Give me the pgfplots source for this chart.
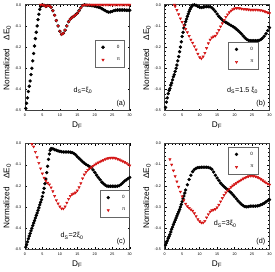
\documentclass[border=0pt]{standalone}
\usepackage{pgfplots}
\pgfplotsset{compat=1.18}
\usepgfplotslibrary{groupplots}
\usepackage{fontspec}
\setmainfont{Liberation Sans}
\begin{document}
\begin{tikzpicture}
\pgfplotsset{
  every axis/.append style={
    scale only axis, width=102pt, height=103pt,
    xmin=0, xmax=30, ymin=-0.5, ymax=0,
    xtick={0,5,...,30}, minor x tick num=4,
    ytick={-0.5,-0.4,...,0.01}, minor y tick num=4,
    tick align=inside, major tick length=2pt, minor tick length=1pt,
    tick style={black, line width=0.3pt},
    axis line style={line width=0.5pt, black!75},
    /pgf/number format/assume math mode=true,
    ticklabel style={font=\fontsize{3.6}{4}\selectfont},
    yticklabel style={/pgf/number format/.cd, fixed, fixed zerofill, precision=1},
    xticklabel style={/pgf/number format/.cd, fixed},
    xlabel={D\textsubscript{F}},
    ylabel={Normalized\quad ΔE\textsubscript{0}},
    label style={font=\fontsize{8}{9}\selectfont},
    xlabel style={yshift=2pt},
    ylabel style={yshift=-3pt},
    clip=false,
    legend style={draw=black!60, line width=0.4pt, font=\fontsize{4.5}{5}\selectfont, inner xsep=2pt, inner ysep=3pt, row sep=4pt, legend cell align=left},
    legend image code/.code={\path (0cm,0cm) (0.6cm,0cm); \draw[#1] plot coordinates {(0.2cm,0cm)};},
  },
  blk/.style={only marks, mark=*, mark size=1.45pt, black, mark options={fill=black}},
  red/.style={only marks, mark=triangle*, mark size=1.35pt, color={rgb,255:red,210;green,20;blue,20}, mark options={rotate=180, fill={rgb,255:red,220;green,20;blue,20}}},
}
\begin{groupplot}[group style={group size=2 by 2, horizontal sep=34pt, vertical sep=32pt}]
% (a)
\nextgroupplot[legend style={at={(0.95,0.41)}, anchor=south east}]
\addplot[blk] coordinates {
(0.25,-0.49)(0.5,-0.465)(0.75,-0.44)(1.0,-0.41)(1.25,-0.385)(1.5,-0.36)(1.75,-0.33)(2.0,-0.30)(2.25,-0.265)(2.5,-0.23)(2.75,-0.195)(3.0,-0.16)(3.25,-0.13)(3.5,-0.10)(3.75,-0.07)(4.0,-0.045)(4.25,-0.022)(4.5,-0.008)
(5.0,0.0)(5.5,-0.003)(6.0,-0.008)(6.5,-0.004)(7.0,-0.005)(7.5,-0.012)(8.0,-0.028)(8.5,-0.05)(9.0,-0.075)(9.5,-0.10)(10.0,-0.125)(10.5,-0.14)(11.0,-0.135)(11.5,-0.12)(12.0,-0.10)(12.5,-0.08)(13.0,-0.068)(13.5,-0.06)(14.0,-0.055)(14.5,-0.048)(15.0,-0.04)(15.5,-0.028)(16.0,-0.015)(16.5,-0.004)(17.0,0.0)
(17.5,-0.002)(18,-0.003)(18.5,-0.003)(19,-0.004)(19.5,-0.005)(20,-0.007)(20.5,-0.009)(21,-0.011)(21.5,-0.014)(22,-0.018)(22.5,-0.023)(23,-0.028)(23.5,-0.033)(24,-0.035)(24.5,-0.034)(25,-0.031)(25.5,-0.028)(26,-0.026)(26.5,-0.025)(27,-0.025)(27.5,-0.025)(28,-0.025)(28.5,-0.025)(29,-0.026)(29.5,-0.026)(30,-0.026)
};
\addlegendentry{0}
\addplot[red] coordinates {
(4.5,0.0)(5.0,0.0)(5.5,-0.003)(6.0,-0.008)(6.5,-0.004)(7.0,-0.005)(7.5,-0.012)(8.0,-0.028)(8.5,-0.05)(9.0,-0.075)(9.5,-0.10)(10.0,-0.125)(10.5,-0.14)(11.0,-0.135)(11.5,-0.12)(12.0,-0.10)(12.5,-0.08)(13.0,-0.068)(13.5,-0.06)(14.0,-0.055)(14.5,-0.048)(15.0,-0.04)(15.5,-0.028)(16.0,-0.015)(16.5,-0.004)(17.0,0.0)
(17.5,0.0)(18,0.0)(18.5,0.0)(19,0.0)(19.5,0.0)(20,0.0)(20.5,0.0)(21,0.0)(21.5,0.0)(22,0.0)(22.5,0.0)(23,0.0)(23.5,0.0)(24,0.0)(24.5,0.0)(25,0.0)(25.5,0.0)(26,0.0)(26.5,0.0)(27,0.0)(27.5,0.0)(28,0.0)(28.5,0.0)(29,0.0)(29.5,0.0)(30,0.0)
};
\addlegendentry{π}
\node[font=\fontsize{7}{8}\selectfont] at (axis cs:16.6,-0.407) {d\textsubscript{S}=ξ\textsubscript{0}};
\node[font=\fontsize{7}{8}\selectfont] at (axis cs:27.5,-0.465) {(a)};
% (b)
\nextgroupplot[legend style={at={(0.89,0.39)}, anchor=south east}]
\addplot[blk] coordinates {
(0.25,-0.485)(0.5,-0.46)(0.75,-0.44)(1.0,-0.42)(1.25,-0.405)(1.5,-0.395)(1.75,-0.38)(2.0,-0.37)(2.25,-0.355)(2.5,-0.34)(2.75,-0.33)(3.0,-0.315)(3.25,-0.30)(3.5,-0.285)(3.75,-0.265)(4.0,-0.245)(4.25,-0.222)(4.5,-0.20)(4.75,-0.175)(5.0,-0.15)(5.25,-0.13)(5.5,-0.11)(5.75,-0.095)(6.0,-0.08)(6.25,-0.068)(6.5,-0.055)(6.75,-0.043)(7.0,-0.032)(7.25,-0.022)(7.5,-0.014)(7.75,-0.007)(8.0,-0.002)
(8.5,0.0)(9.0,-0.003)(9.5,-0.008)(10.0,-0.012)(10.5,-0.013)(11.0,-0.012)(11.5,-0.010)(12.0,-0.009)(12.5,-0.009)(13.0,-0.010)(13.5,-0.014)(14.0,-0.022)(14.5,-0.032)(15.0,-0.044)(15.5,-0.055)(16.0,-0.064)(16.5,-0.072)(17.0,-0.078)(17.5,-0.083)(18.0,-0.088)(18.5,-0.093)(19.0,-0.098)(19.5,-0.103)(20.0,-0.108)(20.5,-0.115)(21.0,-0.122)(21.5,-0.130)(22.0,-0.138)(22.5,-0.148)(23.0,-0.157)(23.5,-0.164)(24.0,-0.168)(24.5,-0.170)(25.0,-0.170)(25.5,-0.170)(26.0,-0.170)(26.5,-0.170)(27.0,-0.168)(27.5,-0.165)(28.0,-0.158)(28.5,-0.148)(29.0,-0.137)(29.5,-0.122)(30.0,-0.108)
};
\addlegendentry{0}
\addplot[red] coordinates {
(2.75,0.0)(3.0,-0.008)(3.5,-0.025)(4.0,-0.045)(4.5,-0.065)(5.0,-0.082)(5.5,-0.098)(6.0,-0.115)(6.5,-0.13)(7.0,-0.148)(7.5,-0.165)(8.0,-0.18)(8.5,-0.196)(9.0,-0.212)(9.5,-0.232)(10.0,-0.248)(10.5,-0.254)(11.0,-0.245)(11.5,-0.228)(12.0,-0.205)(12.5,-0.182)(13.0,-0.165)(13.5,-0.155)(14.0,-0.15)(14.5,-0.147)(15.0,-0.135)(15.5,-0.12)(16.0,-0.103)(16.5,-0.088)(17.0,-0.072)(17.5,-0.058)(18.0,-0.046)(18.5,-0.036)(19.0,-0.028)(19.5,-0.022)(20.0,-0.018)(20.5,-0.016)(21.0,-0.016)(21.5,-0.017)(22.0,-0.019)(22.5,-0.02)(23.0,-0.021)(23.5,-0.022)(24.0,-0.023)(24.5,-0.024)(25.0,-0.024)(25.5,-0.024)(26.0,-0.024)(26.5,-0.024)(27.0,-0.025)(27.5,-0.026)(28.0,-0.028)(28.5,-0.031)(29.0,-0.034)(29.5,-0.037)(30.0,-0.04)
};
\addlegendentry{π}
\node[font=\fontsize{7}{8}\selectfont] at (axis cs:22.3,-0.407) {d\textsubscript{S}=1.5 ξ\textsubscript{0}};
\node[font=\fontsize{7}{8}\selectfont] at (axis cs:27.5,-0.465) {(b)};
% (c)
\nextgroupplot[legend style={at={(1.0,0.30)}, anchor=south east}]
\addplot[blk] coordinates {
(0.25,-0.49)(0.5,-0.478)(0.75,-0.465)(1.0,-0.45)(1.25,-0.437)(1.5,-0.425)(1.75,-0.413)(2.0,-0.40)(2.25,-0.388)(2.5,-0.376)(2.75,-0.364)(3.0,-0.352)(3.25,-0.34)(3.5,-0.328)(3.75,-0.316)(4.0,-0.304)(4.25,-0.29)(4.5,-0.278)(4.75,-0.265)(5.0,-0.25)(5.25,-0.232)(5.5,-0.212)(5.75,-0.19)(6.0,-0.168)(6.25,-0.138)(6.5,-0.108)(6.75,-0.075)(7.0,-0.05)(7.25,-0.032)(7.5,-0.024)
(8.0,-0.025)(8.5,-0.029)(9.0,-0.032)(9.5,-0.035)(10.0,-0.037)(10.5,-0.039)(11.0,-0.04)(11.5,-0.04)(12.0,-0.04)(12.5,-0.04)(13.0,-0.041)(13.5,-0.043)(14.0,-0.047)(14.5,-0.053)(15.0,-0.062)(15.5,-0.07)(16.0,-0.078)(16.5,-0.086)(17.0,-0.093)(17.5,-0.099)(18.0,-0.104)(18.5,-0.109)(19.0,-0.115)(19.5,-0.125)(20.0,-0.137)(20.5,-0.149)(21.0,-0.16)(21.5,-0.171)(22.0,-0.182)(22.5,-0.19)(23.0,-0.197)(23.5,-0.201)(24.0,-0.202)(24.5,-0.202)(25.0,-0.202)(25.5,-0.202)(26.0,-0.202)(26.5,-0.201)(27.0,-0.199)(27.5,-0.193)(28.0,-0.186)(28.5,-0.178)(29.0,-0.172)(29.5,-0.166)(30.0,-0.16)
};
\addlegendentry{0}
\addplot[red] coordinates {
(2.0,-0.003)(2.5,-0.015)(3.0,-0.04)(3.5,-0.065)(4.0,-0.092)(4.5,-0.118)(5.0,-0.142)(5.5,-0.162)(6.0,-0.176)(6.5,-0.186)(7.0,-0.194)(7.5,-0.208)(8.0,-0.226)(8.5,-0.248)(9.0,-0.268)(9.5,-0.284)(10.0,-0.298)(10.5,-0.307)(11.0,-0.308)(11.5,-0.298)(12.0,-0.28)(12.5,-0.262)(13.0,-0.248)(13.5,-0.24)(14.0,-0.236)(14.5,-0.232)(15.0,-0.222)(15.5,-0.207)(16.0,-0.188)(16.5,-0.165)(17.0,-0.147)(17.5,-0.135)(18.0,-0.125)(18.5,-0.118)(19.0,-0.112)(19.5,-0.106)(20.0,-0.1)(20.5,-0.095)(21.0,-0.09)(21.5,-0.086)(22.0,-0.082)(22.5,-0.078)(23.0,-0.074)(23.5,-0.071)(24.0,-0.069)(24.5,-0.068)(25.0,-0.068)(25.5,-0.068)(26.0,-0.07)(26.5,-0.073)(27.0,-0.076)(27.5,-0.08)(28.0,-0.084)(28.5,-0.088)(29.0,-0.092)(29.5,-0.098)(30.0,-0.104)
};
\addlegendentry{π}
\node[font=\fontsize{7}{8}\selectfont] at (axis cs:13.5,-0.437) {d\textsubscript{S}=2ξ\textsubscript{0}};
\node[font=\fontsize{7}{8}\selectfont] at (axis cs:27.5,-0.465) {(c)};
% (d)
\nextgroupplot[legend style={at={(0.89,0.97)}, anchor=north east}]
\addplot[blk] coordinates {
(0.25,-0.48)(0.5,-0.47)(0.75,-0.46)(1.0,-0.448)(1.25,-0.44)(1.5,-0.43)(1.75,-0.418)(2.0,-0.405)(2.25,-0.395)(2.5,-0.383)(2.75,-0.372)(3.0,-0.362)(3.25,-0.352)(3.5,-0.342)(3.75,-0.332)(4.0,-0.322)(4.25,-0.312)(4.5,-0.3)(4.75,-0.288)(5.0,-0.275)(5.25,-0.262)(5.5,-0.248)(5.75,-0.234)(6.0,-0.22)
(6.5,-0.195)(7.0,-0.17)(7.5,-0.15)(8.0,-0.133)(8.5,-0.123)(9.0,-0.117)(9.5,-0.114)(10.0,-0.113)(10.5,-0.112)(11.0,-0.112)(11.5,-0.112)(12.0,-0.112)(12.5,-0.113)(13.0,-0.116)(13.5,-0.122)(14.0,-0.135)(14.5,-0.15)(15.0,-0.163)(15.5,-0.175)(16.0,-0.187)(16.5,-0.196)(17.0,-0.204)(17.5,-0.211)(18.0,-0.218)(18.5,-0.225)(19.0,-0.233)(19.5,-0.242)(20.0,-0.251)(20.5,-0.261)(21.0,-0.271)(21.5,-0.28)(22.0,-0.288)(22.5,-0.294)(23.0,-0.298)(23.5,-0.299)(24.0,-0.298)(24.5,-0.296)(25.0,-0.296)(25.5,-0.296)(26.0,-0.296)(26.5,-0.295)(27.0,-0.293)(27.5,-0.29)(28.0,-0.286)(28.5,-0.282)(29.0,-0.276)(29.5,-0.27)(30.0,-0.265)
};
\addlegendentry{0}
\addplot[red] coordinates {
(1.5,-0.075)(2.0,-0.1)(2.5,-0.128)(3.0,-0.155)(3.5,-0.18)(4.0,-0.205)(4.5,-0.228)(5.0,-0.25)(5.5,-0.268)(6.0,-0.285)(6.5,-0.297)(7.0,-0.305)(7.5,-0.312)(8.0,-0.318)(8.5,-0.33)(9.0,-0.344)(9.5,-0.358)(10.0,-0.368)(10.5,-0.374)(11.0,-0.374)(11.5,-0.366)(12.0,-0.35)(12.5,-0.334)(13.0,-0.322)(13.5,-0.316)(14.0,-0.313)(14.5,-0.31)(15.0,-0.302)(15.5,-0.29)(16.0,-0.274)(16.5,-0.258)(17.0,-0.244)(17.5,-0.232)(18.0,-0.222)(18.5,-0.214)(19.0,-0.206)(19.5,-0.199)(20.0,-0.193)(20.5,-0.187)(21.0,-0.181)(21.5,-0.176)(22.0,-0.171)(22.5,-0.166)(23.0,-0.162)(23.5,-0.158)(24.0,-0.155)(24.5,-0.153)(25.0,-0.153)(25.5,-0.154)(26.0,-0.156)(26.5,-0.159)(27.0,-0.163)(27.5,-0.168)(28.0,-0.174)(28.5,-0.18)(29.0,-0.185)(29.5,-0.19)(30.0,-0.195)
};
\addlegendentry{π}
\node[font=\fontsize{7}{8}\selectfont] at (axis cs:17.3,-0.38) {d\textsubscript{S}=3ξ\textsubscript{0}};
\node[font=\fontsize{7}{8}\selectfont] at (axis cs:27.5,-0.465) {(d)};
\end{groupplot}
\end{tikzpicture}
\end{document}
